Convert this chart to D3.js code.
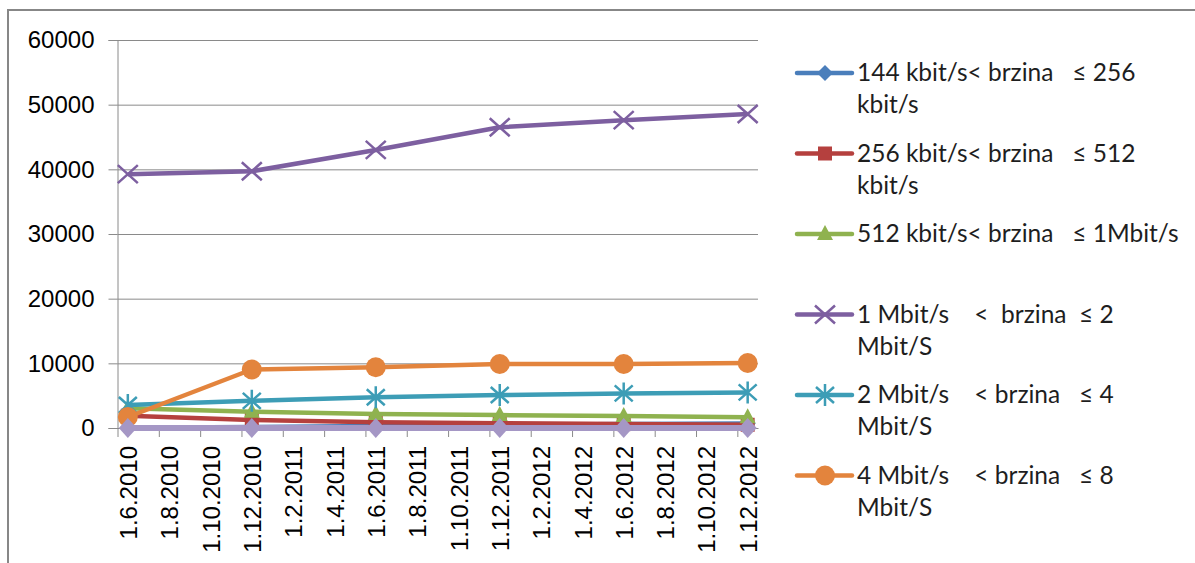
<!DOCTYPE html>
<meta charset="utf-8">
<script src="https://d3js.org/d3.v7.min.js"></script>
<style>
  body { margin: 0; background: #fff; }
  svg { display: block; }
</style>
<div id="chart"></div>
<script>

// data
const dates = ["1.6.2010", "1.12.2010", "1.6.2011", "1.12.2011", "1.6.2012", "1.12.2012"];
const tickLabels = ["1.6.2010", "1.8.2010", "1.10.2010", "1.12.2010", "1.2.2011", "1.4.2011",
  "1.6.2011", "1.8.2011", "1.10.2011", "1.12.2011", "1.2.2012", "1.4.2012",
  "1.6.2012", "1.8.2012", "1.10.2012", "1.12.2012"];
const yTicks = [0, 10000, 20000, 30000, 40000, 50000, 60000];

const s144 = [50, 150, 300, 450, 600, 700];
const s256 = [1900, 1250, 900, 750, 600, 500];
const s512 = [3050, 2500, 2150, 2000, 1850, 1650];
const s1M = [39250, 39700, 43000, 46500, 47600, 48550];
const s2M = [3550, 4200, 4750, 5100, 5350, 5500];
const s4M = [1700, 9050, 9400, 9900, 9900, 10050];
const sExtra = [0, 0, 0, 0, 0, 0];

const legendLabels = [
  ["144 kbit/s< brzina   \u2264 256", "kbit/s"],
  ["256 kbit/s< brzina   \u2264 512", "kbit/s"],
  ["512 kbit/s< brzina   \u2264 1Mbit/s"],
  ["1 Mbit/s    <  brzina  \u2264 2", "Mbit/S"],
  ["2 Mbit/s    < brzina   \u2264 4", "Mbit/S"],
  ["4 Mbit/s    < brzina   \u2264 8", "Mbit/S"]
];

const series = [
  {values: s144, color: "#4a7ebb", marker: "diamond", legend: 0},
  {values: s256, color: "#b5403e", marker: "square", legend: 1},
  {values: s512, color: "#8fb24f", marker: "triangle", legend: 2},
  {values: s1M, color: "#7d5fa0", marker: "x", legend: 3},
  {values: s2M, color: "#3d9db6", marker: "star", legend: 4},
  {values: s4M, color: "#e3843d", marker: "circle", legend: 5},
  {values: sExtra, color: "#a597c5", marker: "diamondBig", legend: -1}
];

const W = 1195, H = 563;
const svg = d3.select("#chart").append("svg")
  .attr("width", W).attr("height", H);

// outer chart border
svg.append("path")
  .attr("d", "M8,563 L8,10 L1195,10")
  .attr("fill", "none")
  .attr("stroke", "#878787")
  .attr("stroke-width", 2);

// month index since June 2010
function monthIndex(s) {
  const p = s.split(".");
  return (+p[2] - 2010) * 12 + (+p[1] - 6);
}

const x = d3.scaleLinear().domain([-0.5, 30.5]).range([117.5, 758]);
const y = d3.scaleLinear().domain([0, 60000]).range([428, 40]);

// gridlines
svg.append("g")
  .selectAll("line")
  .data(yTicks.filter(d => d > 0))
  .join("line")
    .attr("x1", x(-0.5)).attr("x2", x(30.5))
    .attr("y1", d => y(d) + 0.5).attr("y2", d => y(d) + 0.5)
    .attr("stroke", "#8a8a8a").attr("stroke-width", 1);

// Y axis
const yAxis = svg.append("g")
  .attr("transform", `translate(${x(-0.5)},0)`)
  .call(d3.axisLeft(y).tickValues(yTicks).tickSize(9).tickPadding(14).tickFormat(d3.format("d")));
yAxis.select(".domain").attr("stroke", "#8a8a8a");
yAxis.selectAll(".tick line").attr("stroke", "#8a8a8a");
yAxis.selectAll("text")
  .style("font-family", "'Liberation Sans', Arial, sans-serif")
  .style("font-size", "24px")
  .attr("fill", "#000");

// X axis: ticks between months, labels centred on months
const tickPos = d3.range(tickLabels.length).map(i => i * 2 - 0.5);
const xAxis = svg.append("g")
  .attr("transform", `translate(0,${y(0)})`)
  .call(d3.axisBottom(x).tickValues(tickPos).tickSize(9).tickFormat("").tickSizeOuter(0));
xAxis.select(".domain").attr("stroke", "#8a8a8a");
xAxis.selectAll(".tick line").attr("stroke", "#8a8a8a");

const labelPos = tickLabels.map(monthIndex);
const xLabels = svg.append("g")
  .attr("transform", `translate(0,${y(0)})`)
  .call(d3.axisBottom(x).tickValues(labelPos).tickSize(0)
    .tickFormat((d, i) => tickLabels[i]));
xLabels.select(".domain").remove();
xLabels.selectAll("text")
  .attr("transform", "rotate(-90)")
  .attr("text-anchor", "end")
  .attr("x", -18)
  .attr("y", 0)
  .attr("dy", "0.36em")
  .style("font-family", "'Liberation Sans', Arial, sans-serif")
  .style("font-size", "24px")
  .attr("fill", "#000");

// marker drawing
function drawMarker(g, type, color) {
  if (type === "diamond") {
    g.append("path").attr("d", "M0,-8 L8,0 L0,8 L-8,0Z").attr("fill", color);
  } else if (type === "diamondBig") {
    g.append("path").attr("d", "M0,-10 L9,0 L0,10 L-9,0Z").attr("fill", color);
  } else if (type === "square") {
    g.append("rect").attr("x", -7).attr("y", -7).attr("width", 14).attr("height", 14).attr("fill", color);
  } else if (type === "triangle") {
    g.append("path").attr("d", "M0,-9 L8,6 L-8,6Z").attr("fill", color);
  } else if (type === "circle") {
    g.append("circle").attr("r", 10).attr("fill", color);
  } else if (type === "x") {
    g.append("path").attr("d", "M-10,-9 L10,9 M-10,9 L10,-9")
      .attr("stroke", color).attr("stroke-width", 2.5).attr("fill", "none");
  } else if (type === "star") {
    g.append("path").attr("d", "M-9,-8 L9,8 M-9,8 L9,-8 M0,-11 L0,11")
      .attr("stroke", color).attr("stroke-width", 2.5).attr("fill", "none");
  }
}

const line = d3.line()
  .x((d, i) => x(monthIndex(dates[i])))
  .y(d => y(d));

series.forEach(s => {
  const g = svg.append("g");
  g.append("path")
    .datum(s.values)
    .attr("d", line)
    .attr("fill", "none")
    .attr("stroke", s.color)
    .attr("stroke-width", s.marker === "diamondBig" ? 6 : 4.5)
    .attr("stroke-linejoin", "round");
  s.values.forEach((v, i) => {
    const m = g.append("g")
      .attr("transform", `translate(${x(monthIndex(dates[i]))},${y(v)})`);
    drawMarker(m, s.marker, s.color);
  });
});

// legend
const legend = svg.append("g").attr("transform", "translate(797,73)");
series.filter(s => s.legend >= 0).forEach(s => {
  const g = legend.append("g").attr("transform", `translate(0,${s.legend * 80.5})`);
  g.append("line")
    .attr("x1", 0).attr("x2", 55)
    .attr("stroke", s.color).attr("stroke-width", 4.5)
    .attr("stroke-linecap", "round");
  const m = g.append("g").attr("transform", "translate(28,0)");
  drawMarker(m, s.marker, s.color);
  g.append("text")
    .attr("x", 60)
    .attr("y", 8)
    .style("font-family", "Lato, 'Open Sans', sans-serif")
    .style("font-size", "24.5px")
    .style("white-space", "pre")
    .attr("fill", "#1e1e1e")
    .selectAll("tspan")
    .data(legendLabels[s.legend])
    .join("tspan")
      .attr("x", 60)
      .attr("dy", (d, i) => i === 0 ? 0 : 32)
      .text(d => d);
});

</script>
